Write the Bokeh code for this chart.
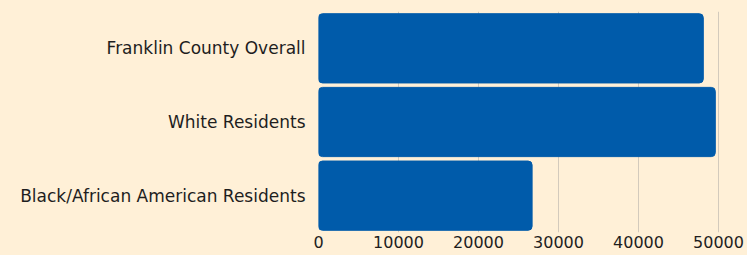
from bokeh.plotting import figure
from bokeh.models import FixedTicker, ColumnDataSource
from bokeh.embed import file_html
from bokeh.resources import INLINE

categories = ["Black/African American Residents", "White Residents", "Franklin County Overall"]
values = [26700, 49600, 48100]
ticks = [0, 10000, 20000, 30000, 40000, 50000]

BG = "#FFF0D7"
BAR = "#005BAA"
FONT = "DejaVu Sans"

src = ColumnDataSource(dict(cat=categories, val=values))

p = figure(y_range=categories, x_range=(0, 51625), width=747, height=255,
           output_backend="svg", toolbar_location=None,
           min_border_left=318, min_border_right=16, min_border_top=11, min_border_bottom=23)
p.hbar(y="cat", right="val", left=0, height=0.94, source=src, color=BAR,
       border_radius=4)

p.background_fill_color = BG
p.border_fill_color = BG
p.outline_line_color = None
p.ygrid.grid_line_color = None
p.xgrid.grid_line_color = "#D3CABC"
p.xgrid.ticker = FixedTicker(ticks=ticks)
p.xaxis.ticker = FixedTicker(ticks=ticks)

for ax in (p.xaxis, p.yaxis):
    ax.axis_line_color = None
    ax.major_tick_line_color = None
    ax.minor_tick_line_color = None
    ax.major_tick_out = 0
    ax.major_tick_in = 0
    ax.major_label_text_font = FONT
    ax.major_label_text_color = "#1E1E1E"
p.yaxis.major_label_text_font_size = "17px"
p.xaxis.major_label_text_font_size = "16px"
p.yaxis.major_label_standoff = 13
p.xaxis.major_label_standoff = 3

html = file_html(p, INLINE)
html = html.replace("</head>", "<style>html,body{background:%s;}</style></head>" % BG, 1)
open("out.html", "w").write(html)
